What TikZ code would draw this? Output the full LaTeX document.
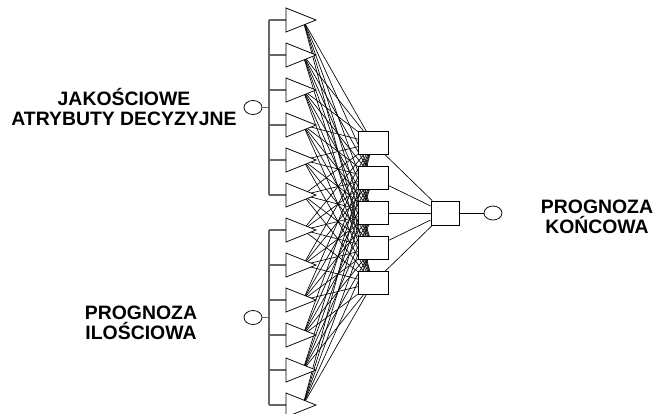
\documentclass[tikz,border=0pt]{standalone}
\usepackage{fontspec}
\setmainfont{Liberation Sans}
\usetikzlibrary{backgrounds,shapes.geometric}
\begin{document}
\begin{tikzpicture}[x=1pt,y=-1pt,
  conn/.style={draw=black, line width=0.65pt},
  bus/.style={draw=black!60, line width=1.3pt},
  tri/.style={draw=black, fill=white, line width=0.75pt, line join=miter},
  hid/.style={rectangle, draw=black, fill=white, line width=0.9pt, minimum width=30pt, minimum height=23pt, inner sep=0pt},
  outbox/.style={rectangle, draw=black, fill=white, line width=0.9pt, minimum width=28pt, minimum height=24pt, inner sep=0pt},
  term/.style={ellipse, draw=black, fill=white, line width=0.75pt, minimum width=18pt, minimum height=14pt, inner sep=0pt},
  lbl/.style={font=\bfseries\fontsize{19.4}{20}\selectfont, align=center, inner sep=0pt}
]
\useasboundingbox (0,0) rectangle (655,413);

% input coordinates
\foreach \i in {1,...,12} {
  \pgfmathsetmacro{\cy}{20+35*(\i-1)}
  \coordinate (u\i) at (269,\cy);
  \coordinate (a\i) at (286,\cy);
  \coordinate (s\i) at (303,\cy);
}

% hidden boxes
\foreach \j in {1,...,5} {
  \pgfmathsetmacro{\hy}{143+35*(\j-1)}
  \node[hid] (h\j) at (373,\hy) {};
}
\node[outbox] (out) at (445,213) {};
\node[term] (oc) at (493,213) {};

% terminal circles of inputs
\node[term] (in1) at (253,107.5) {};
\node[term] (in2) at (253,317.5) {};

% connections input -> hidden
\begin{scope}[on background layer]
  \foreach \i in {1,...,12} {
    \foreach \j in {1,...,5} {
      \draw[conn] (s\i) -- (h\j.center);
    }
  }
\end{scope}

% buses
\draw[bus] (u1) -- (u6);
\draw[bus] (u7) -- (u12);
\draw[bus] (in1) -- (in1 -| u1);
\draw[bus] (in2) -- (in2 -| u7);
\foreach \i in {1,...,12} {
  \draw[bus] (u\i) -- (a\i);
}

% triangles
\foreach \i in {1,...,12} {
  \draw[tri] (a\i) ++(0,-12) -- ++(30,12) -- ++(-30,12) -- cycle;
}

% hidden -> output
\foreach \j in {1,...,5} {
  \draw[conn] (h\j) -- (out);
}
\draw[conn] (out) -- (oc);

% labels
\node[lbl, anchor=base] (l1) at (124,125) {JAKOŚCIOWE\\ATRYBUTY DECYZYJNE};
\node[lbl, anchor=base] (l2) at (141,339) {PROGNOZA\\ILOŚCIOWA};
\node[lbl, anchor=base] (l3) at (597,233) {PROGNOZA\\KOŃCOWA};
\end{tikzpicture}
\end{document}
